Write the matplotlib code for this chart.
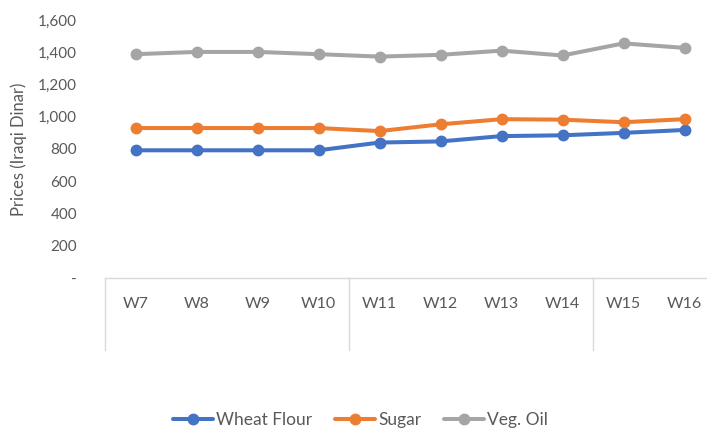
import numpy as np
import matplotlib
matplotlib.use("Agg")
import matplotlib.pyplot as plt
import matplotlib.transforms as mtransforms
from matplotlib.ticker import FuncFormatter

weeks = ["W7", "W8", "W9", "W10", "W11", "W12", "W13", "W14", "W15", "W16"]
wheat_flour = [792, 792, 792, 792, 840, 847, 880, 885, 900, 918]
sugar = [930, 930, 930, 930, 911, 953, 985, 982, 966, 985]
veg_oil = [1388, 1402, 1402, 1388, 1373, 1384, 1410, 1380, 1455, 1427]
group_breaks = [3.5, 7.5]

plt.rcParams["font.family"] = ["Lato", "DejaVu Sans"]
TXT = "#595959"

fig = plt.figure(figsize=(7.07, 4.32), dpi=100)
ax = fig.add_axes([105 / 707, 1 - 278 / 432, 610 / 707, 258 / 432])

x = np.arange(len(weeks))
series = [("Wheat Flour", wheat_flour, "#4472C4"),
          ("Sugar", sugar, "#ED7D31"),
          ("Veg. Oil", veg_oil, "#A5A5A5")]
for name, vals, col in series:
    ax.plot(x, vals, color=col, linewidth=2.9, marker="o", markersize=7.5,
            label=name, solid_capstyle="round")

ax.set_xlim(-0.5, len(weeks) - 0.5)
ax.set_ylim(0, 1600)
ax.set_yticks(range(0, 1601, 200))
ax.yaxis.set_major_formatter(FuncFormatter(lambda v, p: "-" if v == 0 else f"{int(v):,}"))
ax.set_xticks(x)
ax.set_xticklabels(weeks)
ax.tick_params(axis="both", length=0, colors=TXT, labelsize=11)
ax.tick_params(axis="x", pad=14, labelsize=11.5)
ax.tick_params(axis="y", pad=20)
for s in ax.spines.values():
    s.set_visible(False)

# category axis box
trans = mtransforms.blended_transform_factory(ax.transData, ax.transAxes)
ax.plot([-0.5, len(weeks) - 0.5], [0, 0], color="#D9D9D9", lw=1, transform=trans, clip_on=False)
for b in [-0.5] + group_breaks:
    ax.plot([b, b], [0, -0.28], color="#D9D9D9", lw=1, transform=trans, clip_on=False)

ax.set_ylabel("Prices (Iraqi Dinar)", color=TXT, fontsize=12, labelpad=8)

fig.legend(loc="lower center", bbox_to_anchor=(0.51, -0.028), ncol=3, frameon=False,
           fontsize=12.5, handlelength=2.3, handletextpad=0.2, columnspacing=1.3,
           labelcolor=TXT)

fig.savefig("out.png", dpi=100)
